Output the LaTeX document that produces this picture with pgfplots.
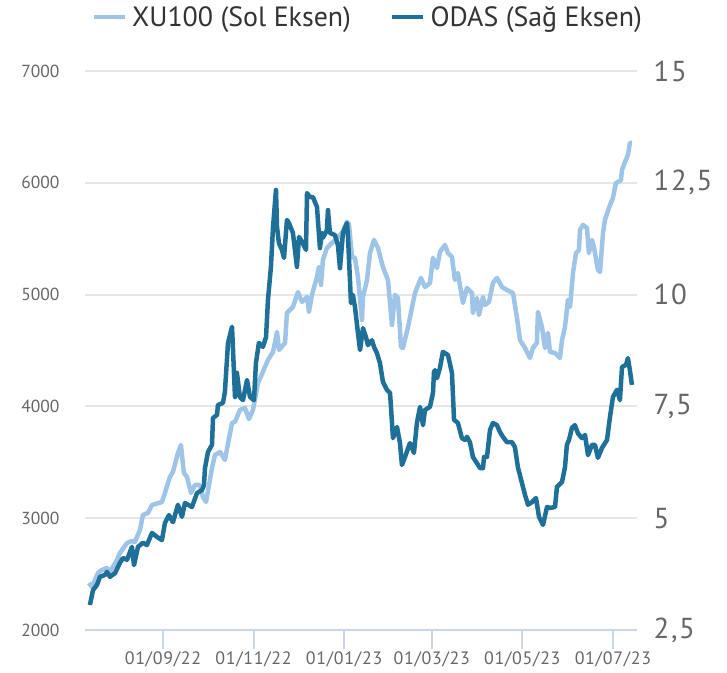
\documentclass[border=0pt]{standalone}
\usepackage{fontspec}
\setmainfont{PT Sans}
\usepackage{pgfplots}
\usepackage{pgfplotstable}
\pgfplotsset{compat=1.18}
\definecolor{xucol}{RGB}{158,197,232}
\definecolor{odcol}{RGB}{30,112,152}
\definecolor{gridc}{RGB}{230,230,230}
\definecolor{axc}{RGB}{204,214,235}
\definecolor{labc}{RGB}{102,102,102}
\definecolor{legc}{RGB}{51,51,51}

% day 0 = 01/09/2022
\pgfplotstableread{
d v
-49.8 2420
-47.8 2385
-43.8 2510
-41.1 2537
-37.7 2555
-35.7 2519
-31.0 2626
-29.0 2689
-24.2 2778
-20.9 2796
-18.9 2787
-15.5 2895
-13.5 3029
-10.1 3047
-7.4 3118
-0.7 3145
1.3 3225
4.7 3369
6.7 3413
10.1 3583
12.1 3655
12.8 3565
14.1 3404
16.2 3369
18.9 3225
21.5 3297
24.9 3297
26.9 3190
29.0 3145
33.0 3449
35.0 3565
38.4 3592
41.7 3521
46.5 3852
48.5 3861
51.8 3968
55.2 3986
57.9 3887
60.6 3968
64.0 4209
68.7 4353
70.7 4415
74.1 4487
76.8 4666
78.1 4505
82.2 4567
83.5 4836
87.5 4889
90.9 5023
93.6 4934
97.0 4979
98.3 4845
100.3 4997
103.7 5158
105.0 5247
106.4 5086
107.7 5310
110.4 5417
113.8 5462
117.2 5506
120.5 5551
123.9 5650
125.2 5632
127.3 5336
129.3 5328
131.3 5158
134.0 4773
134.7 4979
137.4 5131
139.4 5372
142.1 5489
144.8 5417
148.1 5247
151.5 5131
154.2 4728
156.2 4997
158.2 4970
160.3 4531
161.6 4522
165.0 4710
169.7 5014
173.7 5149
176.4 5068
179.8 5104
181.8 5328
184.5 5238
186.5 5381
189.9 5444
191.9 5372
194.6 5336
196.6 5131
198.6 5193
202.0 4925
204.7 5059
208.1 5014
208.7 4836
211.4 4970
212.8 4818
215.5 4979
216.8 4907
219.5 4934
222.2 5104
224.9 5149
228.3 5068
231.6 5041
235.7 5014
238.4 4791
240.4 4594
243.8 4522
247.1 4433
249.1 4522
251.8 4567
252.5 4845
255.2 4710
257.2 4522
259.2 4657
260.6 4487
264.0 4478
267.3 4433
268.7 4594
270.7 4710
272.7 4952
274.1 4889
276.1 5193
278.1 5372
280.1 5399
280.8 5578
282.8 5623
285.5 5596
286.8 5372
288.9 5489
290.2 5426
292.9 5220
294.3 5202
296.3 5551
297.6 5667
300.3 5775
303.0 5864
305.0 5998
306.4 6007
308.4 6025
309.1 6115
311.1 6186
313.1 6249
314.4 6356
315.8 6356
}\xudata

\pgfplotstableread{
d v
-49.2 3.06
-47.1 3.39
-44.4 3.51
-42.4 3.69
-39.1 3.73
-37.7 3.80
-35.7 3.69
-32.3 3.77
-29.0 4.00
-26.9 4.11
-24.2 4.07
-20.9 4.36
-19.5 3.95
-16.8 4.36
-13.5 4.45
-10.8 4.40
-7.4 4.67
-4.0 4.58
-0.7 4.51
1.3 4.89
4.0 5.07
6.7 4.91
10.1 5.30
12.8 5.03
14.8 5.34
19.5 5.25
22.9 5.56
26.3 5.63
27.6 5.74
28.3 6.12
30.3 6.48
33.0 6.64
33.7 7.24
36.4 7.31
37.0 7.53
40.4 7.58
41.7 7.82
43.8 8.92
46.5 9.28
47.1 8.83
48.5 7.71
49.8 8.25
51.8 7.71
53.9 7.64
56.6 8.09
58.6 7.71
61.3 7.64
62.6 8.47
64.6 8.92
67.3 8.83
69.4 9.05
70.7 9.88
72.7 10.62
74.1 11.51
76.1 12.34
76.8 11.51
78.1 11.15
80.1 11.00
81.5 10.82
83.5 11.67
84.8 11.60
87.5 11.38
90.2 10.62
91.6 11.29
93.6 11.18
96.3 11.00
97.0 12.27
99.0 12.18
101.0 12.18
103.7 11.96
105.7 11.04
107.1 11.38
107.7 11.27
110.4 11.44
111.1 11.89
112.4 11.38
115.8 11.33
117.8 11.11
119.2 10.59
121.2 11.38
123.9 11.60
124.6 11.29
125.9 10.33
126.6 9.81
127.9 9.99
129.3 9.72
131.3 9.14
132.7 8.76
134.7 9.25
136.7 9.05
138.0 8.87
140.7 8.98
142.1 8.83
144.1 8.69
146.1 8.47
148.1 8.05
150.8 7.87
152.9 7.80
154.9 6.79
157.6 7.04
159.6 6.68
160.9 6.19
163.0 6.37
166.3 6.68
169.0 6.46
171.0 7.13
173.1 7.49
175.1 7.08
176.4 7.42
179.8 7.49
181.8 7.80
182.5 8.27
183.2 8.31
184.5 8.13
186.5 8.36
188.5 8.72
189.9 8.69
191.9 8.65
194.6 8.25
196.0 7.20
198.6 7.13
201.3 6.79
203.4 6.75
204.7 6.82
206.7 6.70
208.7 6.37
211.4 6.23
213.5 6.12
215.5 6.12
216.2 6.37
218.2 6.37
220.2 6.97
222.2 7.13
224.9 7.08
226.9 6.93
228.9 6.82
231.6 6.70
235.0 6.70
237.0 6.59
239.0 6.14
241.7 5.79
243.8 5.52
245.8 5.30
248.5 5.36
251.2 5.45
252.5 5.18
253.2 5.03
255.9 4.85
258.6 5.25
260.6 5.23
264.0 5.25
265.3 5.70
268.7 5.81
270.7 6.14
272.0 6.64
273.4 6.75
275.4 7.02
277.4 7.08
279.4 6.90
282.1 6.79
284.2 6.86
286.2 6.41
288.9 6.64
290.9 6.64
292.9 6.35
295.6 6.57
299.0 6.75
301.0 7.26
303.0 7.71
305.7 7.87
307.7 7.64
309.1 8.38
311.8 8.43
313.1 8.58
314.4 8.31
315.8 7.98
}\oddata

\begin{document}
\begin{tikzpicture}
\useasboundingbox (-85bp,-43bp) rectangle (642bp,630bp);
\begin{axis}[
  scale only axis, width=552bp, height=559bp,
  xmin=-52.5, xmax=319.2, ymin=2000, ymax=7000,
  axis x line*=bottom, axis y line*=left,
  x axis line style={axc, line width=2bp, -},
  y axis line style={draw=none},
  xtick={0,61,122,181,242,303},
  xticklabels={01/09/22,01/11/22,01/01/23,01/03/23,01/05/23,01/07/23},
  xtick align=outside, major tick length=19bp,
  xtick style={axc, line width=2bp},
  ytick={2000,3000,4000,5000,6000,7000},
  ytick style={draw=none},
  ymajorgrids, grid style={gridc, line width=2bp},
  /pgf/number format/assume math mode=true,
  /pgf/number format/1000 sep={},
  xticklabel style={font=\fontsize{18}{18}\selectfont\addfontfeature{LetterSpace=4}, text=labc, yshift=1bp},
  yticklabel style={font=\fontsize{17.5}{18}\selectfont, text=labc, xshift=-22bp},
  legend columns=2,
  legend style={draw=none, fill=none, at={(0.515,1.0966)}, anchor=center,
    font=\fontsize{28}{30}\selectfont, text=legc,
    nodes={inner xsep=5bp},
    /tikz/every even column/.append style={column sep=34bp}},
  legend image code/.code={\draw[#1] (0bp,0bp) -- (31bp,0bp);},
  clip=false,
]
\addlegendimage{xucol, line width=4.5bp}
\addlegendentry{XU100 (Sol Eksen)}
\addlegendimage{odcol, line width=4.5bp}
\addlegendentry{ODAS (Sağ Eksen)}
\addplot[xucol, line width=4.5bp, line join=round] table[x=d, y=v] {\xudata};
\end{axis}
\begin{axis}[
  scale only axis, width=552bp, height=559bp,
  xmin=-52.5, xmax=319.2, ymin=2.5, ymax=15,
  hide x axis,
  axis y line*=right,
  y axis line style={draw=none},
  ytick={2.5,5,7.5,10,12.5,15},
  yticklabels={{2,5},5,{7,5},10,{12,5},15},
  ytick style={draw=none},
  yticklabel style={font=\fontsize{29}{29}\selectfont\addfontfeature{LetterSpace=6}, text=labc, anchor=west, xshift=13bp},
  clip=false,
]
\addplot[odcol, line width=4.5bp, line join=round] table[x=d, y=v] {\oddata};
\end{axis}
\end{tikzpicture}
\end{document}
